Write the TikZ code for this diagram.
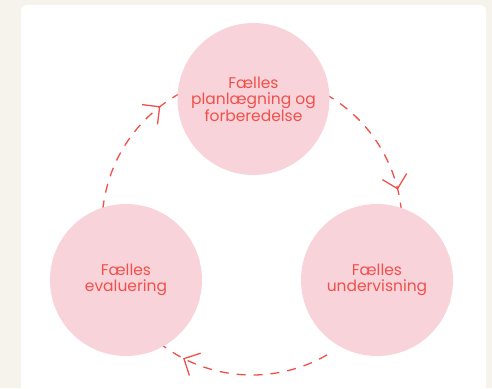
\documentclass[tikz,border=0pt]{standalone}
\usepackage{fontspec}
\setmainfont{Poppins}
\usetikzlibrary{backgrounds}
\definecolor{paper}{HTML}{F6F3EC}
\definecolor{rosa}{HTML}{F9D3DA}
\definecolor{roed}{HTML}{F0504A}
\tikzset{
  fase/.style={circle,fill=rosa,minimum size=152pt,inner sep=0pt,align=center,
    text=roed,font=\fontsize{15.5}{16.5}\selectfont},
  pil/.style={roed,line width=1.3pt,dash pattern=on 9pt off 8pt},
  spids/.style={roed,line width=1.3pt,line join=miter,shift={(hub)},rotate=#1}
}
\begin{document}
\begin{tikzpicture}[x=1pt,y=1pt]
\useasboundingbox (0,0) rectangle (492,388);

\coordinate (hub) at (252,163);
\node[fase] (plan) at (253.5,289) {Fælles\\planlægning og\\forberedelse};
\node[fase] (evaluering) at (126,108) {Fælles\\evaluering};
\node[fase] (undervisning) at (377,108) {Fælles\\undervisning};

\begin{pgfonlayer}{background}
\fill[paper] (0,0) rectangle (492,388);
\fill[white,rounded corners=6pt] (21,-10) rectangle (486,383);
\draw[pil] (hub) ++(200:150pt) arc[start angle=200,end angle=100,radius=150pt];
\draw[pil] (hub) ++(80:150pt) arc[start angle=80,end angle=-10,radius=150pt];
\draw[pil] (hub) ++(-60:150pt) arc[start angle=300,end angle=220,radius=150pt];
% pilespidser
\draw[spids=128] (137.5,12.5) -- (150,0) -- (162.5,12.5);
\draw[spids=14] (137.5,12.5) -- (150,0) -- (162.5,12.5);
\draw[spids=243] (137.5,12.5) -- (150,0) -- (162.5,12.5);
\end{pgfonlayer}
\end{tikzpicture}
\end{document}
